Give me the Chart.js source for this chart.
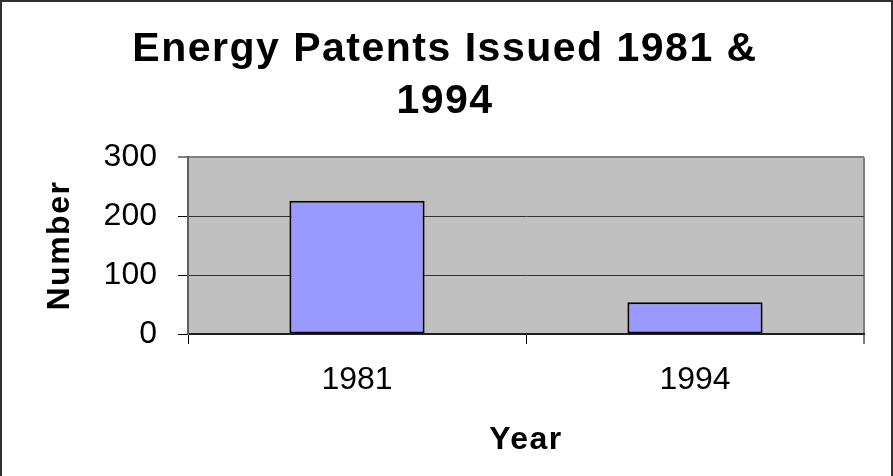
<!DOCTYPE html>
<html lang="en">
  <head>
    <meta charset="UTF-8" />
    <title>Energy Patents Issued 1981 &amp; 1994</title>
    <script src="https://cdn.jsdelivr.net/npm/chart.js"></script>
    <style>
      body { margin: 0; background: #fff; }
      canvas { display: block; }
    </style>
  </head>
  <body>
    <canvas id="patentChart" width="893" height="476"></canvas>
    <script>
      const years = ["1981", "1994"];
      const patents = [226, 54];
      const yTicks = [0, 100, 200, 300];

      const FONT = "'Liberation Sans', Arial, sans-serif";

      // grey plot area, outer frame, and letter spacing for the bold titles
      const excelLook = {
        id: "excelLook",
        beforeDraw(chart) {
          const { ctx, chartArea: a } = chart;
          ctx.save();
          ctx.fillStyle = "#c0c0c0";
          ctx.fillRect(a.left, a.top, a.right - a.left, a.bottom - a.top);
          ctx.restore();
          ctx.letterSpacing = "1.5px";
        },
        beforeDatasetsDraw(chart) {
          chart.ctx.letterSpacing = "0px";
        },
        afterDraw(chart) {
          const ctx = chart.ctx;
          ctx.save();
          ctx.strokeStyle = "#303030";
          ctx.lineWidth = 2;
          ctx.strokeRect(1, 1, 891, 520);
          ctx.restore();
        },
      };

      new Chart(document.getElementById("patentChart"), {
        type: "bar",
        data: {
          labels: years,
          datasets: [
            {
              data: patents,
              backgroundColor: "#9999ff",
              borderColor: "#000",
              borderWidth: 2,
              borderSkipped: false,
              barPercentage: 0.4,
              categoryPercentage: 1,
            },
          ],
        },
        options: {
          responsive: false,
          animation: false,
          layout: { padding: { left: 26, right: 29, top: 0, bottom: 0 } },
          plugins: {
            legend: { display: false },
            tooltip: { enabled: false },
            title: {
              display: true,
              text: ["Energy Patents Issued 1981 &", "1994"],
              color: "#000",
              font: { family: FONT, size: 41, weight: "bold", lineHeight: 1.27 },
              padding: { top: 24, bottom: 29 },
            },
          },
          scales: {
            x: {
              offset: true,
              afterFit(scale) {
                scale.height = 142;
              },
              grid: {
                offset: true,
                drawOnChartArea: true,
                color: (c) => (c.type === "tick" ? "rgba(0,0,0,0)" : "#808080"),
                lineWidth: (c) => (c.type === "tick" ? 1 : 2),
                tickColor: "#000",
                tickWidth: 1,
                tickLength: 10,
              },
              border: { color: "#202020", width: 2 },
              ticks: {
                color: "#000",
                font: { family: FONT, size: 32 },
                padding: 17,
                z: 1,
              },
              title: {
                display: true,
                text: "Year",
                color: "#000",
                font: { family: FONT, size: 32, weight: "bold" },
                padding: { top: 0, bottom: 17 },
              },
            },
            y: {
              min: 0,
              max: 300,
              afterFit(scale) {
                scale.width = 162;
              },
              afterBuildTicks(scale) {
                scale.ticks = yTicks.map((v) => ({ value: v }));
              },
              grid: {
                color: (c) => (c.tick && c.tick.value === 300 ? "#808080" : "#303030"),
                lineWidth: (c) => (c.tick && c.tick.value === 300 ? 2 : 1),
                tickColor: "#000",
                tickWidth: 1,
                tickLength: 10,
              },
              border: { color: "#606060", width: 2 },
              ticks: {
                color: "#000",
                font: { family: FONT, size: 32 },
                padding: 21,
                z: 1,
              },
              title: {
                display: true,
                text: "Number",
                color: "#000",
                font: { family: FONT, size: 32, weight: "bold" },
                padding: { top: 15, bottom: 0 },
              },
            },
          },
        },
        plugins: [excelLook],
      });
    </script>
  </body>
</html>
